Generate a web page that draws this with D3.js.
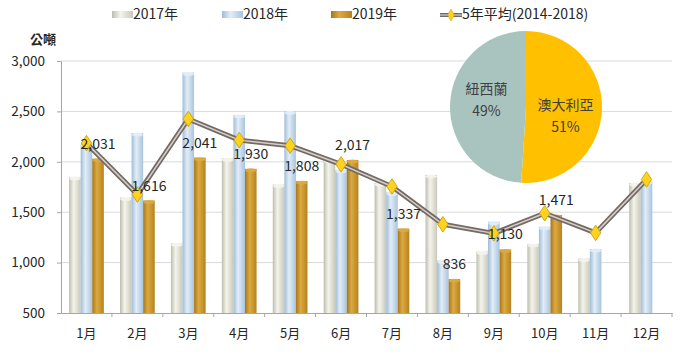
<!DOCTYPE html>
<html>
<head>
<meta charset="utf-8">
<script src="https://cdn.jsdelivr.net/npm/d3@7"></script>
<style>
  body { margin: 0; background: #fff; }
  svg text { font-family: "Noto Sans CJK TC", "Noto Sans", sans-serif; fill: #262626; }
</style>
</head>
<body>
<svg id="chart" width="680" height="359"></svg>
<script>
const months = ["1月", "2月", "3月", "4月", "5月", "6月", "7月", "8月", "9月", "10月", "11月", "12月"];
const y2017 = [1850, 1645, 1190, 2035, 1775, 2020, 1790, 1870, 1110, 1185, 1040, 1790];
const y2018 = [2175, 2285, 2885, 2465, 2500, 1920, 1695, 1020, 1405, 1355, 1135, 1805];
const y2019 = [2031, 1616, 2041, 1930, 1808, 2017, 1337, 836, 1130, 1471, null, null];
const avg5 = [2185, 1675, 2425, 2215, 2160, 1975, 1755, 1380, 1290, 1490, 1295, 1825];
const yTicks = [500, 1000, 1500, 2000, 2500, 3000];
const seriesNames = ["2017年", "2018年", "2019年"];
const avgName = "5年平均(2014-2018)";
const pieLabels = ["澳大利亞", "紐西蘭"];
const pieShares = [51, 49];

const svg = d3.select("#chart");
const margin = { top: 61, right: 8, bottom: 46, left: 61 };
const width = +svg.attr("width");
const height = +svg.attr("height");

// gradients for the cylinder look
const defs = svg.append("defs");
const barColors = [
  ["#bdbdae", "#f4f4ec", "#c9c9ba"],
  ["#9fbcd8", "#e2edf7", "#a9c4de"],
  ["#a8761a", "#dcaa40", "#b5821f"]
];
barColors.forEach((c, i) => {
  const g = defs.append("linearGradient").attr("id", "bar" + i)
    .attr("x1", "0").attr("x2", "1").attr("y1", "0").attr("y2", "0");
  g.append("stop").attr("offset", "0%").attr("stop-color", c[0]);
  g.append("stop").attr("offset", "40%").attr("stop-color", c[1]);
  g.append("stop").attr("offset", "100%").attr("stop-color", c[2]);
});

const x0 = d3.scaleBand().domain(months).range([margin.left, width - margin.right]).padding(0);
const x1 = d3.scaleBand().domain(seriesNames).range([0, x0.bandwidth()])
  .paddingInner(0).paddingOuter(0.7);
const y = d3.scaleLinear().domain([500, 3000]).range([height - margin.bottom, margin.top]);

// gridlines
svg.append("g")
  .selectAll("line")
  .data(yTicks.slice(1))
  .join("line")
  .attr("x1", margin.left).attr("x2", width - margin.right)
  .attr("y1", d => y(d)).attr("y2", d => y(d))
  .attr("stroke", "#d9d9d9");

// y axis
const yAxisG = svg.append("g")
  .attr("transform", `translate(${margin.left},0)`)
  .call(d3.axisLeft(y).tickValues(yTicks).tickFormat(d3.format(",")).tickSize(4).tickPadding(12));
yAxisG.select(".domain").attr("stroke", "#a6a6a6");
yAxisG.selectAll(".tick line").attr("stroke", "#a6a6a6");
yAxisG.selectAll(".tick text").attr("font-size", 13.5);

svg.append("text").attr("x", 56).attr("y", 44).attr("text-anchor", "end")
  .attr("font-size", 13).attr("font-weight", "bold").text("公噸");

// x axis
const xAxisG = svg.append("g")
  .attr("transform", `translate(0,${height - margin.bottom})`)
  .call(d3.axisBottom(x0).tickSize(0).tickPadding(16));
xAxisG.select(".domain").attr("stroke", "#a6a6a6");
xAxisG.selectAll(".tick text").attr("font-size", 13);
svg.append("g").selectAll("line")
  .data(months)
  .join("line")
  .attr("x1", d => x0(d) + x0.bandwidth()).attr("x2", d => x0(d) + x0.bandwidth())
  .attr("y1", y(500)).attr("y2", y(500) + 4)
  .attr("stroke", "#a6a6a6");

// bars
const series = [y2017, y2018, y2019];
series.forEach((vals, si) => {
  const g = svg.append("g");
  const rows = months.map((m, i) => ({ m, v: vals[i] })).filter(d => d.v != null);
  g.selectAll("rect")
    .data(rows)
    .join("rect")
    .attr("x", d => x0(d.m) + x1(seriesNames[si]))
    .attr("y", d => y(d.v))
    .attr("width", x1.bandwidth())
    .attr("height", d => y(500) - y(d.v))
    .attr("fill", `url(#bar${si})`);
  // small cap to suggest a cylinder
  g.selectAll("ellipse")
    .data(rows)
    .join("ellipse")
    .attr("cx", d => x0(d.m) + x1(seriesNames[si]) + x1.bandwidth() / 2)
    .attr("cy", d => y(d.v) + 1.5)
    .attr("rx", x1.bandwidth() / 2)
    .attr("ry", 2)
    .attr("fill", barColors[si][1])
    .attr("opacity", 0.9);
});

// 5-year average line
const line = d3.line()
  .x((d, i) => x0(months[i]) + x0.bandwidth() / 2)
  .y(d => y(d));
svg.append("path").attr("d", line(avg5)).attr("fill", "none")
  .attr("stroke", "#746a65").attr("stroke-width", 5).attr("stroke-linejoin", "round");
svg.append("path").attr("d", line(avg5)).attr("fill", "none")
  .attr("stroke", "#d6cfcb").attr("stroke-width", 1.5).attr("stroke-linejoin", "round");

const diamond = d3.symbol().type(d3.symbolDiamond).size(70);
svg.append("g").selectAll("path")
  .data(avg5)
  .join("path")
  .attr("d", diamond)
  .attr("transform", (d, i) => `translate(${x0(months[i]) + x0.bandwidth() / 2},${y(d)}) scale(1.15,1)`)
  .attr("fill", "#ffd21f")
  .attr("stroke", "#c9a000")
  .attr("stroke-width", 0.8);

// labels for 2019
svg.append("g").selectAll("text")
  .data(months.map((m, i) => ({ m, v: y2019[i] })).filter(d => d.v != null))
  .join("text")
  .attr("x", d => x0(d.m) + x1("2019年") + x1.bandwidth() / 2)
  .attr("y", d => y(d.v) - 10)
  .attr("text-anchor", "middle")
  .attr("font-size", 14)
  .text(d => d3.format(",")(d.v));

// pie
const pieR = 76;
const pieG = svg.append("g").attr("transform", "translate(526,107)");
const pieData = d3.pie().sort(null)(pieShares);
const pieColors = ["#ffc000", "#a9c4bf"];
const arc = d3.arc().innerRadius(0).outerRadius(pieR);
const labelArc = d3.arc().innerRadius(pieR * 0.52).outerRadius(pieR * 0.52);
pieG.selectAll("path")
  .data(pieData)
  .join("path")
  .attr("d", arc)
  .attr("fill", (d, i) => pieColors[i]);
const pl = pieG.selectAll("text.pl")
  .data(pieData)
  .join("text")
  .attr("class", "pl")
  .attr("transform", (d, i) => {
    const c = labelArc.centroid(d);
    return `translate(${c[0]},${c[1] + (i === 0 ? 6 : -8)})`;
  })
  .attr("text-anchor", "middle")
  .attr("font-size", 14)
  .style("fill", "#404040");
pl.append("tspan").attr("x", 0).attr("dy", "-0.3em").text((d, i) => pieLabels[i]);
pl.append("tspan").attr("x", 0).attr("dy", "1.6em").text((d, i) => pieShares[i] + "%");

// legend
const legend = svg.append("g").attr("transform", "translate(0,14)");
const legendX = [112, 222, 331];
seriesNames.forEach((name, i) => {
  legend.append("rect").attr("x", legendX[i]).attr("y", -3).attr("width", 21).attr("height", 7)
    .attr("fill", `url(#bar${i})`);
  legend.append("text").attr("x", legendX[i] + 21).attr("y", 5).attr("font-size", 14).text(name);
});
legend.append("line").attr("x1", 440).attr("x2", 462).attr("y1", 1).attr("y2", 1)
  .attr("stroke", "#746a65").attr("stroke-width", 4);
legend.append("line").attr("x1", 440).attr("x2", 462).attr("y1", 1).attr("y2", 1)
  .attr("stroke", "#d6cfcb").attr("stroke-width", 1.2);
legend.append("path").attr("d", diamond).attr("transform", "translate(451,1) scale(0.75)")
  .attr("fill", "#ffd21f").attr("stroke", "#c9a000").attr("stroke-width", 0.8);
legend.append("text").attr("x", 462).attr("y", 5).attr("font-size", 14).text(avgName);
</script>
</body>
</html>
